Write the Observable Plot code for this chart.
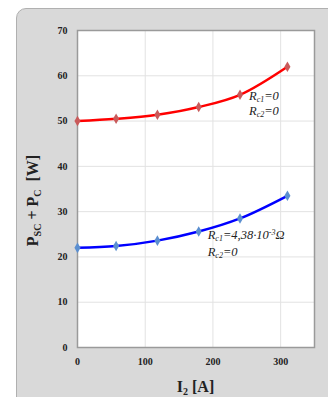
<!DOCTYPE html>
<html>
<head>
<meta charset="utf-8">
<script src="https://cdn.jsdelivr.net/npm/d3@7"></script>
<script src="https://cdn.jsdelivr.net/npm/@observablehq/plot@0.6"></script>
<style>
  html, body { margin: 0; padding: 0; background: #ffffff; overflow: hidden; }
  #wrap { position: relative; width: 328px; height: 397px; }
  #panel { position: absolute; left: 16px; top: 8px; width: 330px; height: 400px;
           background: #d9d9d9; border: 1px solid #b0b0b0; border-radius: 10px; box-sizing: border-box; }
  #chart { position: absolute; left: 0; top: 0; }
  svg { font-family: "Liberation Serif", "DejaVu Serif", serif; }
</style>
</head>
<body>
<div id="wrap"><div id="panel"></div><div id="chart"></div></div>
<script>
const current = [0, 57, 118, 179, 240, 310];
const lossNoRes = [50.0, 50.5, 51.4, 53.1, 55.8, 62.0];
const lossWithRes = [22.0, 22.4, 23.6, 25.6, 28.5, 33.5];
const xTicks = [0, 100, 200, 300];
const yTicks = [0, 10, 20, 30, 40, 50, 60, 70];

const red = current.map((x, i) => ({x, y: lossNoRes[i]}));
const blue = current.map((x, i) => ({x, y: lossWithRes[i]}));

const plot = Plot.plot({
  width: 328,
  height: 397,
  marginLeft: 77,
  marginRight: 14,
  marginTop: 30,
  marginBottom: 50,
  style: {background: "transparent", fontFamily: "Liberation Serif, serif"},
  x: {domain: [0, 350], ticks: xTicks, label: null},
  y: {domain: [0, 70], ticks: yTicks, label: null},
  marks: [
    Plot.frame({fill: "white"}),
    Plot.gridX(xTicks, {stroke: "#e2e2e2", strokeOpacity: 1}),
    Plot.gridY(yTicks, {stroke: "#e2e2e2", strokeOpacity: 1}),
    Plot.frame({stroke: "#9a9a9a", strokeWidth: 1.5}),
    Plot.axisX(xTicks, {tickSize: 0, tickPadding: 10, fontSize: 10, fontWeight: "bold", fill: "#222"}),
    Plot.axisY(yTicks, {tickSize: 0, tickPadding: 10, fontSize: 10, fontWeight: "bold", fill: "#222"}),
    Plot.line(red, {x: "x", y: "y", stroke: "#ff0000", strokeWidth: 2.5, curve: "catmull-rom"}),
    Plot.line(blue, {x: "x", y: "y", stroke: "#0000ff", strokeWidth: 2.5, curve: "catmull-rom"}),
    Plot.dot(red, {x: "x", y: "y", symbol: "diamond", r: 3.2, fill: "#c95a5a"}),
    Plot.dot(blue, {x: "x", y: "y", symbol: "diamond", r: 3.2, fill: "#5b8fd0"})
  ]
});
document.getElementById("chart").appendChild(plot);

const sx = plot.scale("x"), sy = plot.scale("y");
const svg = d3.select(plot);

// annotations: [x value, y value, main, sub, rest, sup, tail]
const notes = [
  [254, 54.6, "R", "c1", "=0"],
  [254, 51.3, "R", "c2", "=0"],
  [193, 23.8, "R", "c1", "=4,38·10", "-3", "Ω"],
  [193, 20.2, "R", "c2", "=0"]
];
for (const n of notes) {
  const t = svg.append("text")
    .attr("x", sx.apply(n[0])).attr("y", sy.apply(n[1]))
    .attr("text-anchor", "start")
    .attr("font-family", "Liberation Serif, serif").attr("font-style", "italic")
    .attr("font-size", 12.5).attr("fill", "#222");
  t.append("tspan").text(n[2]);
  t.append("tspan").attr("font-size", 8).attr("dy", 2).text(n[3]);
  t.append("tspan").attr("dy", -2).text(n[4]);
  if (n.length > 5) {
    t.append("tspan").attr("font-size", 8).attr("dy", -4).text(n[5]);
    t.append("tspan").attr("dy", 4).text(n[6]);
  }
}

// axis titles
const xMid = (sx.apply(0) + sx.apply(350)) / 2;
const xl = svg.append("text").attr("x", xMid).attr("y", 392).attr("text-anchor", "middle")
  .attr("font-family", "Liberation Serif, serif").attr("font-weight", "bold").attr("font-size", 16).attr("fill", "#222");
xl.append("tspan").text("I");
xl.append("tspan").attr("font-size", 10).attr("dy", 3).text("2");
xl.append("tspan").attr("dy", -3).text(" [A]");

const yMid = (sy.apply(0) + sy.apply(70)) / 2 + 12;
const yl = svg.append("text").attr("transform", `translate(38,${yMid}) rotate(-90)`).attr("text-anchor", "middle")
  .attr("font-family", "Liberation Serif, serif").attr("font-weight", "bold").attr("font-size", 16).attr("fill", "#222");
yl.append("tspan").text("P");
yl.append("tspan").attr("font-size", 10).attr("dy", 3).text("SC");
yl.append("tspan").attr("dy", -3).text(" + P");
yl.append("tspan").attr("font-size", 10).attr("dy", 3).text("C");
yl.append("tspan").attr("dy", -3).text("  [W]");
</script>
</body>
</html>
